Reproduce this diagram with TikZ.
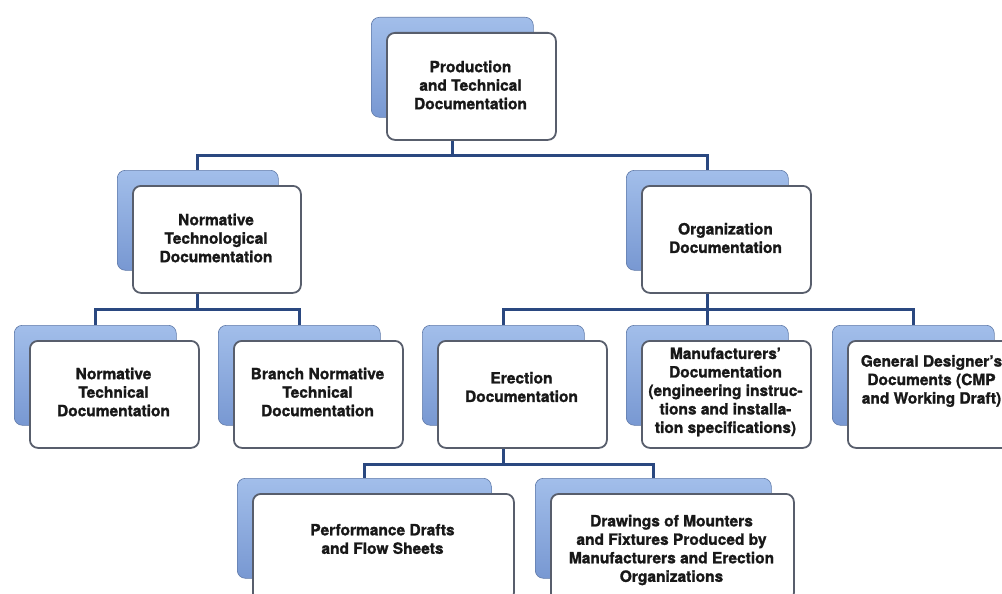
\documentclass[tikz,border=0pt]{standalone}
\usepackage{fontspec}
\setmainfont{TeX Gyre Heros}[BoldFeatures={FakeBold=1.3}]
\usetikzlibrary{positioning}
\usetikzlibrary{calc}
\usetikzlibrary{backgrounds}
\definecolor{linkblue}{RGB}{42,72,128}
\definecolor{backblue}{RGB}{120,152,210}
\definecolor{backlight}{RGB}{162,190,234}
\definecolor{cardedge}{RGB}{88,94,108}
\definecolor{inkgray}{RGB}{24,24,24}

\begin{document}
\begin{tikzpicture}[x=1pt,y=-1pt,
  card/.style={draw=cardedge, line width=1.8pt, fill=white, rounded corners=8pt,
               minimum height=107pt, anchor=north west, inner sep=0pt},
  backcard/.style={draw=backblue!80!black, line width=0.6pt, top color=backlight,
               bottom color=backblue, rounded corners=8pt,
               minimum height=100pt, anchor=north west, inner sep=0pt},
  cardtext/.style={align=center, text=inkgray, font=\fontsize{15.5}{18.5}\selectfont\bfseries},
  link/.style={draw=linkblue, line width=3.2pt}]

%---------------------------------------
% Frame
%---------------------------------------
\useasboundingbox (0,0) rectangle (1002,594);
\clip (0,0) rectangle (1002,594);

%---------------------------------------
% Card macro: name, left, top, width, text y, text
%---------------------------------------
\def\docbox#1#2#3#4#5#6{%
  \node[backcard, minimum width=#4pt-7pt] (#1-bk) at (#2-15,#3-15) {};
  \node[card, minimum width=#4pt] (#1) at (#2,#3) {};
  \node[cardtext] (#1-t) at (#2+#4/2,#5) {#6};
}

%====================================================
% Level 1
%====================================================
\docbox{top}{386}{32}{169}{85}{Production\\and Technical\\Documentation}

%====================================================
% Level 2
%====================================================
\docbox{normtechno}{132}{185}{168}{238}{Normative\\Technological\\Documentation}
\docbox{org}{641}{185}{169}{238}{Organization\\Documentation}

%====================================================
% Level 3
%====================================================
\docbox{normtech}{29}{340}{169}{392}{Normative\\Technical\\Documentation}
\docbox{branch}{233}{340}{169}{392}{Branch Normative\\Technical\\Documentation}
\docbox{erect}{437}{340}{169}{387}{Erection\\Documentation}
\docbox{manuf}{641}{340}{169}{392}{Manufacturers'\\Documentation\\(engineering instruc-\\tions and installa-\\tion specifications)}
\docbox{gendes}{847}{340}{169}{381}{General Designer's\\Documents (CMP\\and Working Draft)}

%====================================================
% Level 4
%====================================================
\docbox{perf}{252}{493}{261}{539}{Performance Drafts\\and Flow Sheets}
\docbox{draw}{550}{493}{243}{550}{Drawings of Mounters\\and Fixtures Produced by\\Manufacturers and Erection\\Organizations}

%---------------------------------------
% Connectors (behind the cards)
%---------------------------------------
\coordinate (bar1) at ($(top.south)+(0,15)$);
\coordinate (bar2) at ($(org.south)+(0,16)$);
\coordinate (bar3) at ($(erect.south)+(0,16)$);

\begin{scope}[on background layer]
  \draw[link] (top-bk.center) -- (top-bk.center |- bar1) -| (normtechno-bk.north);
  \draw[link] (top-bk.center |- bar1) -| (org-bk.north);

  \draw[link] (normtechno-bk.center) -- (normtechno-bk.center |- bar2) -| (normtech-bk.north);
  \draw[link] (normtechno-bk.center |- bar2) -| (branch-bk.north);

  \draw[link] (org-bk.center) -- (org-bk.center |- bar2) -| (erect-bk.north);
  \draw[link] (org-bk.center |- bar2) -| (manuf-bk.north);
  \draw[link] (org-bk.center |- bar2) -| (gendes-bk.north);

  \draw[link] (erect-bk.center) -- (erect-bk.center |- bar3) -| (perf-bk.north);
  \draw[link] (erect-bk.center |- bar3) -| (draw-bk.north);
\end{scope}

\end{tikzpicture}
\end{document}
